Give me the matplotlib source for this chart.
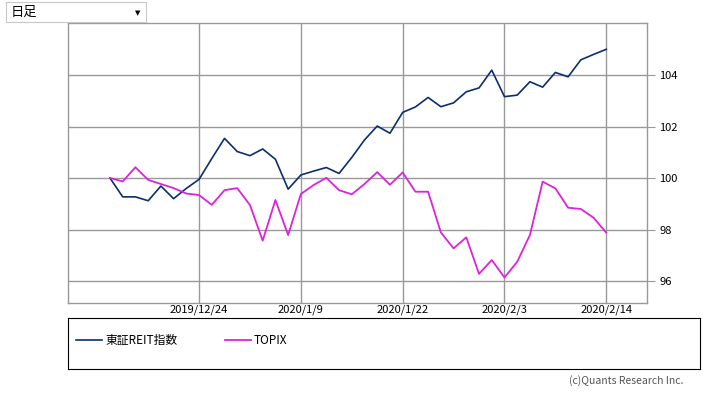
#chart of REIT index vs TOPIX, rebased to 100
import matplotlib.pyplot as plt
from matplotlib.patches import Rectangle

plt.rcParams['font.family']=['Noto Sans CJK JP','DejaVu Sans']

#trading days 2019/12/13 - 2020/2/14 (categorical axis)
dates=['2019/12/13','2019/12/16','2019/12/17','2019/12/18','2019/12/19','2019/12/20',
       '2019/12/23','2019/12/24','2019/12/25','2019/12/26','2019/12/27','2019/12/30',
       '2020/1/6','2020/1/7','2020/1/8','2020/1/9','2020/1/10','2020/1/14','2020/1/15',
       '2020/1/16','2020/1/17','2020/1/20','2020/1/21','2020/1/22','2020/1/23','2020/1/24',
       '2020/1/27','2020/1/28','2020/1/29','2020/1/30','2020/1/31','2020/2/3','2020/2/4',
       '2020/2/5','2020/2/6','2020/2/7','2020/2/10','2020/2/12','2020/2/13','2020/2/14']
reit=[100.0,99.27,99.27,99.12,99.69,99.2,99.6,99.95,100.76,101.54,
      101.03,100.87,101.13,100.73,99.57,100.12,100.27,100.41,100.18,100.8,
      101.48,102.02,101.74,102.55,102.76,103.13,102.77,102.92,103.35,103.5,
      104.19,103.16,103.22,103.74,103.53,104.1,103.93,104.59,104.8,105.0]
topix=[100.0,99.87,100.42,99.93,99.77,99.61,99.4,99.34,98.96,99.53,
       99.61,98.95,97.57,99.15,97.79,99.38,99.73,100.01,99.53,99.37,
       99.77,100.23,99.74,100.22,99.47,99.47,97.89,97.27,97.7,96.28,
       96.82,96.14,96.75,97.79,99.86,99.6,98.85,98.8,98.46,97.88]
series_names=['東証REIT指数','TOPIX']
tick_dates=['2019/12/24','2020/1/9','2020/1/22','2020/2/3','2020/2/14']
yticks=[96,98,100,102,104]

W,H=708,398
fig=plt.figure(figsize=(W/100,H/100),dpi=100)

def px_axes(l,t,r,b):
    return fig.add_axes([l/W,1-b/H,(r-l)/W,(b-t)/H])

grid_c='#999999'
ax=px_axes(68,23,647,303)
x=list(range(len(dates)))
l1,=ax.plot(x,reit,color='#0b2f6e',lw=1.2)
l2,=ax.plot(x,topix,color='#dd22dd',lw=1.3)
ax.set_xlim(-3.3,42.2)
ax.set_ylim(95.15,106.02)
ax.set_yticks(yticks)
ax.set_yticklabels([str(v) for v in yticks])
ax.yaxis.tick_right()
ax.set_xticks([dates.index(d) for d in tick_dates])
ax.set_xticklabels(tick_dates)
ax.tick_params(axis='y',length=6,color=grid_c,labelsize=8,pad=3)
ax.tick_params(axis='x',length=0,labelsize=8,pad=1)
ax.grid(True,color=grid_c,lw=1)
ax.set_axisbelow(True)
for s in ax.spines.values():
    s.set_color(grid_c)
    s.set_linewidth(1)

#legend box
lax=px_axes(68,318,700,369)
lax.set_xticks([]);lax.set_yticks([])
for s in lax.spines.values():
    s.set_color('black')
    s.set_linewidth(0.8)
lax.legend([l1,l2],series_names,loc='center left',bbox_to_anchor=(0,0.55),
           frameon=False,ncol=2,fontsize=8.5,handlelength=2.2,handletextpad=0.25,
           columnspacing=4.0,borderaxespad=0.3)

#dropdown at top-left
fig.patches.append(Rectangle((6/W,1-22/H),140/W,20/H,transform=fig.transFigure,
                             facecolor='white',edgecolor='#c8c8c8',lw=0.8))
fig.text(11/W,1-12/H,'日足',fontsize=9.5,va='center',ha='left')
fig.text(138/W,1-13/H,'▼',fontsize=5,va='center',ha='center',family='DejaVu Sans')

fig.text(683/W,1-381/H,'(c)Quants Research Inc.',fontsize=7.5,color='#555555',ha='right',va='center')

plt.savefig('out.png',dpi=100)
